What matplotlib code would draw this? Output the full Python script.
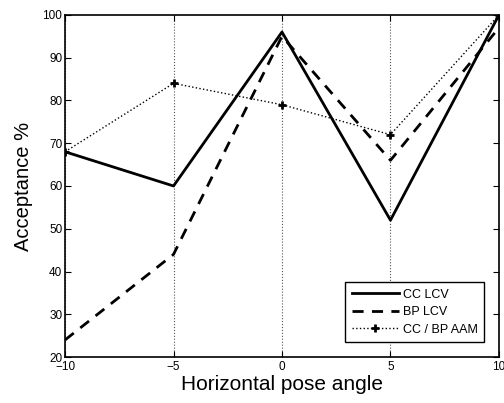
import matplotlib
matplotlib.use("Agg")
import matplotlib.pyplot as plt

plt.rcParams['font.family'] = ['Liberation Sans', 'DejaVu Sans']

angles = [-10, -5, 0, 5, 10]
cc_lcv = [68, 60, 96, 52, 100]
bp_lcv = [24, 44, 95, 66, 97]
aam = [68, 84, 79, 72, 100]
xticks = [-10, -5, 0, 5, 10]
yticks = [20, 30, 40, 50, 60, 70, 80, 90, 100]

fig = plt.figure(figsize=(5.04, 4.03), dpi=100)
ax = fig.add_axes([0.129, 0.114, 0.861, 0.849])

ax.plot(angles, cc_lcv, '-', color='black', lw=2, label='CC LCV')
ax.plot(angles, bp_lcv, '--', color='black', lw=2, dashes=(4, 3), label='BP LCV')
ax.plot(angles, aam, ':', color='black', lw=1, marker='+', ms=6, mew=2, label='CC / BP AAM')

ax.set_xlim(-10, 10)
ax.set_ylim(20, 100)
ax.set_xticks(xticks)
ax.set_yticks(yticks)
ax.xaxis.grid(True, linestyle=':', color='#555555', lw=0.8)
ax.tick_params(direction='in', top=True, right=True, labelsize=8.5, length=4)
ax.tick_params(axis='x', pad=3)
ax.tick_params(axis='y', pad=2)
for s in ax.spines.values():
    s.set_linewidth(1.2)
ax.set_xlabel('Horizontal pose angle', fontsize=15, labelpad=1)
ax.set_ylabel('Acceptance %', fontsize=14.5, labelpad=7)
leg = ax.legend(loc='lower right', fontsize=9, fancybox=False, framealpha=1,
                edgecolor='black', borderaxespad=1.2, handlelength=3.8, handletextpad=0.3,
                borderpad=0.5, labelspacing=0.45)
leg.get_frame().set_linewidth(1.0)

fig.savefig('out.png', dpi=100)
